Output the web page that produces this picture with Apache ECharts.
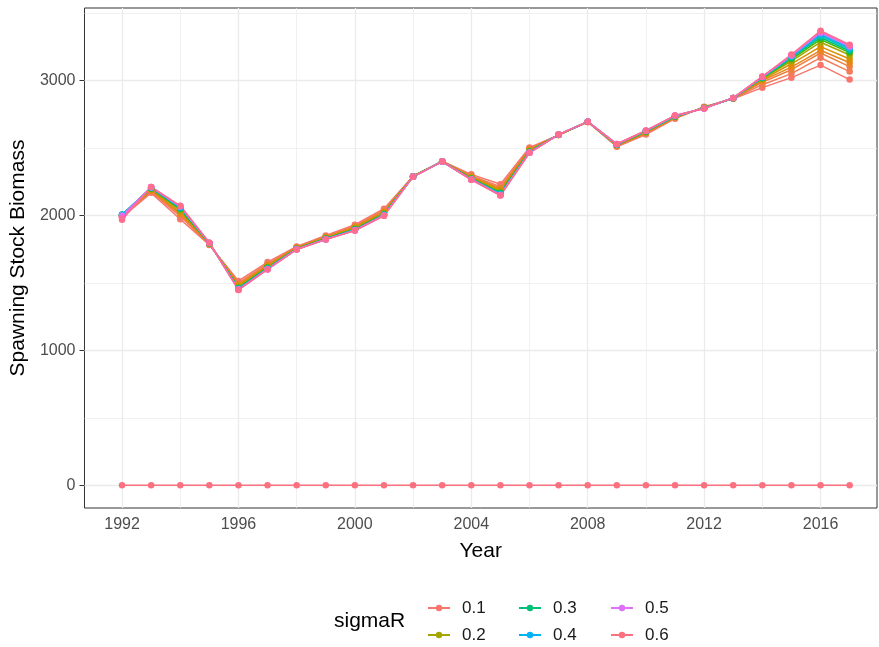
<!DOCTYPE html>
<html>
<head>
<meta charset="utf-8">
<script src="https://cdn.jsdelivr.net/npm/echarts@6/dist/echarts.min.js"></script>
<style>
html,body{margin:0;padding:0;background:#fff;}
#chart{width:879px;height:647px;}
</style>
</head>
<body>
<div id="chart"></div>
<script>
// ---- data ----
const years = [1992,1993,1994,1995,1996,1997,1998,1999,2000,2001,2002,2003,2004,2005,2006,2007,2008,2009,2010,2011,2012,2013,2014,2015,2016,2017];
const sigmaLevels = ["0.1","0.11","0.12","0.13","0.15","0.2","0.25","0.3","0.35","0.4","0.45","0.5","0.55","0.59","0.6"];
const s010 = [1988,2168,1972,1782,1515,1655,1770,1852,1932,2050,2292,2402,2305,2232,2505,2596,2693,2510,2600,2718,2806,2866,2948,3022,3115,3008];
const s011 = [1992,2178,1994,1785,1500,1643,1765,1845,1922,2039,2291,2402,2296,2214,2496,2597,2694,2514,2607,2723,2803,2867,2970,3052,3170,3067];
const s012 = [1995,2183,2007,1788,1492,1636,1762,1842,1917,2032,2291,2401,2291,2203,2491,2597,2694,2517,2611,2726,2802,2868,2988,3081,3205,3104];
const s013 = [1997,2187,2015,1789,1486,1631,1761,1839,1913,2028,2290,2401,2288,2196,2488,2598,2694,2519,2613,2728,2801,2869,3000,3100,3225,3133];
const s015 = [2000,2192,2026,1791,1479,1625,1758,1836,1908,2022,2290,2401,2283,2187,2483,2598,2695,2521,2616,2730,2800,2869,3008,3125,3252,3160];
const s020 = [2003,2197,2039,1793,1470,1618,1755,1832,1903,2015,2289,2401,2278,2176,2478,2599,2695,2523,2620,2733,2798,2870,3015,3145,3285,3190];
const s025 = [2005,2201,2047,1794,1465,1614,1754,1830,1899,2011,2289,2400,2275,2169,2475,2599,2695,2525,2623,2735,2797,2870,3018,3158,3305,3208];
const s030 = [2006,2203,2052,1795,1461,1611,1752,1828,1897,2008,2289,2400,2273,2165,2473,2599,2696,2526,2624,2736,2796,2871,3021,3168,3320,3220];
const s035 = [2006,2206,2058,1796,1457,1608,1751,1826,1894,2005,2288,2400,2271,2160,2471,2599,2696,2527,2626,2738,2796,2871,3023,3175,3333,3232];
const s040 = [2005,2207,2061,1796,1455,1606,1750,1825,1893,2004,2288,2400,2269,2157,2469,2600,2696,2528,2627,2738,2795,2871,3025,3180,3343,3242];
const s045 = [2002,2209,2065,1797,1453,1604,1750,1824,1891,2002,2288,2400,2268,2154,2468,2600,2696,2529,2628,2739,2795,2872,3027,3184,3352,3250];
const s050 = [1995,2210,2068,1797,1451,1602,1749,1823,1890,2000,2288,2400,2267,2151,2467,2600,2696,2529,2629,2740,2794,2872,3028,3187,3359,3256];
const s055 = [1985,2211,2070,1798,1449,1601,1748,1823,1889,1999,2288,2400,2266,2150,2466,2600,2696,2530,2629,2741,2794,2872,3029,3190,3365,3261];
const s059 = [1968,2212,2072,1798,1448,1600,1748,1822,1888,1998,2288,2400,2265,2148,2465,2600,2696,2530,2630,2741,2794,2872,3030,3193,3370,3266];
const s060 = [0,0,0,0,0,0,0,0,0,0,0,0,0,0,0,0,0,0,0,0,0,0,0,0,0,0];
const seriesValues = [s010,s011,s012,s013,s015,s020,s025,s030,s035,s040,s045,s050,s055,s059,s060];
const legendCols = [["0.1","0.2"],["0.3","0.4"],["0.5","0.6"]];
const xTicks = [1992,1996,2000,2004,2008,2012,2016];
const xMinor = [1994,1998,2002,2006,2010,2014];
const yTicks = [0,1000,2000,3000];
const yMinor = [500,1500,2500,3500];

// ---- ggplot-like hue palette (HCL, c=100, l=65) ----
function hcl2hex(h, c, l) {
  const hr = h * Math.PI / 180;
  const U = c * Math.cos(hr), V = c * Math.sin(hr);
  const Xn = 95.047, Yn = 100, Zn = 108.883;
  const den = Xn + 15 * Yn + 3 * Zn;
  const un = 4 * Xn / den, vn = 9 * Yn / den;
  const Y = Yn * (l > 8 ? Math.pow((l + 16) / 116, 3) : l / 903.3);
  const u = U / (13 * l) + un, v = V / (13 * l) + vn;
  const X = 9 * Y * u / (4 * v);
  const Z = -X / 3 - 5 * Y + 3 * Y / v;
  const x = X / 100, y = Y / 100, z = Z / 100;
  let rgb = [
    3.240479 * x - 1.537150 * y - 0.498535 * z,
    -0.969256 * x + 1.875992 * y + 0.041556 * z,
    0.055648 * x - 0.204043 * y + 1.057311 * z
  ];
  rgb = rgb.map(t => {
    t = t <= 0.0031308 ? 12.92 * t : 1.055 * Math.pow(t, 1 / 2.4) - 0.055;
    t = Math.max(0, Math.min(1, t));
    return Math.round(t * 255);
  });
  return '#' + rgb.map(t => t.toString(16).padStart(2, '0')).join('');
}
function levelColor(s) {
  const idx = Math.round((parseFloat(s) - 0.1) * 100);
  const h = (15 + 360 * idx / 51) % 360;
  return hcl2hex(h, 100, 65);
}

const FONT = 'Liberation Sans, Arial, sans-serif';

const gridLines = [];
xTicks.forEach(v => gridLines.push({xAxis: v, lineStyle: {width: 1.3}}));
xMinor.forEach(v => gridLines.push({xAxis: v, lineStyle: {width: 0.7}}));
yTicks.forEach(v => gridLines.push({yAxis: v, lineStyle: {width: 1.3}}));
yMinor.forEach(v => gridLines.push({yAxis: v, lineStyle: {width: 0.7}}));

const series = [{
  type: 'line', name: '_grid', data: [], silent: true,
  markLine: {
    silent: true, symbol: ['none', 'none'], z: 1, animation: false,
    label: {show: false},
    lineStyle: {color: '#EBEBEB', type: 'solid'},
    emphasis: {disabled: true},
    data: gridLines
  }
}];
sigmaLevels.forEach((lv, k) => {
  const col = levelColor(lv);
  series.push({
    type: 'line', name: lv,
    data: years.map((y, i) => [y, seriesValues[k][i]]),
    color: col,
    symbol: 'circle', symbolSize: 6.5, showSymbol: true,
    lineStyle: {width: 1.5, color: col},
    itemStyle: {color: col},
    z: 3,
    emphasis: {disabled: true}
  });
});

const legends = legendCols.map((cols, i) => ({
  data: cols, orient: 'vertical',
  left: [427, 518, 610][i], top: 598, height: 80,
  padding: 0,
  itemWidth: 22, itemHeight: 8, itemGap: 7,
  selectedMode: false,
  textStyle: {fontFamily: FONT, fontSize: 17, lineHeight: 20, color: '#1a1a1a', padding: [0, 0, 0, 7]}
}));

const plainFmt = v => String(v);

const chart = echarts.init(document.getElementById('chart'), null, {renderer: 'canvas'});
chart.setOption({
  animation: false,
  backgroundColor: '#ffffff',
  grid: {left: 84, right: 2, top: 8, bottom: 139, show: true, borderColor: '#333333', borderWidth: 1, backgroundColor: 'transparent'},
  xAxis: {
    type: 'value', min: 1990.71, max: 2017.94,
    name: 'Year', nameLocation: 'middle', nameGap: 33,
    nameTextStyle: {fontFamily: FONT, fontSize: 21, color: '#000'},
    axisLine: {show: false},
    axisTick: {show: true, length: 5, lineStyle: {color: '#333333'}, customValues: xTicks},
    axisLabel: {fontFamily: FONT, fontSize: 16, color: '#4D4D4D', margin: 9, customValues: xTicks, formatter: plainFmt},
    splitLine: {show: false}
  },
  yAxis: {
    type: 'value', min: -168.5, max: 3538.5,
    name: 'Spawning Stock Biomass', nameLocation: 'middle', nameGap: 49,
    nameTextStyle: {fontFamily: FONT, fontSize: 21, color: '#000'},
    axisLine: {show: false},
    axisTick: {show: true, length: 5, lineStyle: {color: '#333333'}, customValues: yTicks},
    axisLabel: {fontFamily: FONT, fontSize: 16, color: '#4D4D4D', margin: 9, customValues: yTicks, formatter: plainFmt},
    splitLine: {show: false}
  },
  legend: legends,
  graphic: [{
    type: 'text', left: 334, top: 611,
    style: {text: 'sigmaR', fontFamily: FONT, fontSize: 21, fill: '#000'}
  }],
  series: series
});
</script>
</body>
</html>
